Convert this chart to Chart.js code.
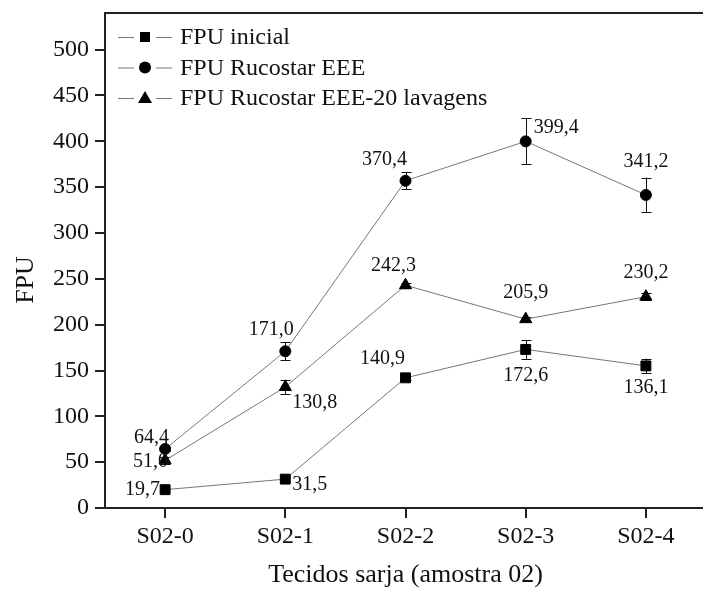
<!DOCTYPE html>
<html lang="pt">
<head>
  <meta charset="UTF-8">
  <title>FPU - Tecidos sarja</title>
  <script src="https://cdn.jsdelivr.net/npm/chart.js"></script>
  <style>
    html, body { margin:0; padding:0; background:#fff; overflow:hidden; }
    #wrap { width:714px; height:591px; }
  </style>
</head>
<body>
  <div id="wrap"><canvas id="fpuChart" width="714" height="591"></canvas></div>
  <script>
    // categories
    const samples = ['S02-0', 'S02-1', 'S02-2', 'S02-3', 'S02-4'];
    const seriesNames = ['FPU inicial', 'FPU Rucostar EEE', 'FPU Rucostar EEE-20 lavagens'];

    // plotted values and their error bars
    const fpuInicial = [20, 31.5, 142, 173, 155];
    const fpuInicialErr = [1.5, 2, 2, 10, 8];
    const fpuRucostar = [64.4, 171, 357, 400, 341.5];
    const fpuRucostarErr = [2, 10, 9, 25, 19];
    const fpuLavagens = [52, 132, 243, 206, 230.5];
    const fpuLavagensErr = [4, 8, 3, 2, 4];

    // value labels printed next to points
    const inicialText = ['19,7', '31,5', '140,9', '172,6', '136,1'];
    const rucostarText = ['64,4', '171,0', '370,4', '399,4', '341,2'];
    const lavagensText = ['51,0', '130,8', '242,3', '205,9', '230,2'];

    const yTicksMax = 540;
    const SERIF = "'Liberation Serif', 'Times New Roman', serif";

    // where each label sits relative to its point [dx, dy, align]
    const labelPlace = [
      [[-5, 0, 'right'], [7, 6, 'left'], [-23, -19, 'center'], [0, 26, 'center'], [0, 22, 'center']],
      [[4, -11, 'right'], [-14, -22, 'center'], [-21, -21, 'center'], [8, -14, 'left'], [0, -33, 'center']],
      [[3, 1, 'right'], [7, 16, 'left'], [-12, -20, 'center'], [0, -26, 'center'], [0, -24, 'center']]
    ];

    function marker(ctx, style, x, y){
      ctx.save();
      ctx.fillStyle = '#000';
      ctx.beginPath();
      if(style === 'rect'){
        ctx.rect(x-5, y-5, 10, 10);
      } else if(style === 'circle'){
        ctx.arc(x, y, 6, 0, Math.PI*2);
      } else {
        ctx.moveTo(x, y-7); ctx.lineTo(x+7, y+5); ctx.lineTo(x-7, y+5); ctx.closePath();
      }
      ctx.fill();
      ctx.restore();
    }

    const extras = {
      id: 'extras',
      beforeDatasetsDraw(chart){
        // error bars
        const ctx = chart.ctx, y = chart.scales.y;
        ctx.save();
        ctx.strokeStyle = '#111'; ctx.lineWidth = 1;
        chart.data.datasets.forEach((ds, i) => {
          const meta = chart.getDatasetMeta(i);
          meta.data.forEach((pt, j) => {
            const e = ds.errors[j];
            const y1 = y.getPixelForValue(ds.data[j] + e), y2 = y.getPixelForValue(ds.data[j] - e);
            const x = Math.round(pt.x) + 0.5;
            ctx.beginPath();
            ctx.moveTo(x, y1); ctx.lineTo(x, y2);
            ctx.moveTo(x-5, Math.round(y1)+0.5); ctx.lineTo(x+5, Math.round(y1)+0.5);
            ctx.moveTo(x-5, Math.round(y2)+0.5); ctx.lineTo(x+5, Math.round(y2)+0.5);
            ctx.stroke();
          });
        });
        ctx.restore();
      },
      afterDraw(chart){
        const ctx = chart.ctx, area = chart.chartArea;
        ctx.save();
        // top frame line
        ctx.strokeStyle = '#222'; ctx.lineWidth = 2;
        ctx.beginPath(); ctx.moveTo(area.left, area.top); ctx.lineTo(chart.width, area.top); ctx.stroke();

        // value labels
        ctx.fillStyle = '#111';
        ctx.font = '20px ' + SERIF;
        ctx.textBaseline = 'middle';
        chart.data.datasets.forEach((ds, i) => {
          chart.getDatasetMeta(i).data.forEach((pt, j) => {
            const p = labelPlace[i][j];
            ctx.textAlign = p[2];
            ctx.fillText(ds.valueText[j], pt.x + p[0], pt.y + p[1]);
          });
        });

        // legend
        ctx.font = '24px ' + SERIF;
        ctx.textAlign = 'left';
        chart.data.datasets.forEach((ds, i) => {
          const ly = 37 + i * 30.5;
          ctx.strokeStyle = '#777'; ctx.lineWidth = 1;
          ctx.beginPath();
          ctx.moveTo(118, ly + 0.5); ctx.lineTo(134, ly + 0.5);
          ctx.moveTo(156, ly + 0.5); ctx.lineTo(172, ly + 0.5);
          ctx.stroke();
          marker(ctx, ds.pointStyle, 145, ly);
          ctx.fillStyle = '#111';
          ctx.fillText(ds.label, 180, ly + 1);
        });

        // y axis title
        ctx.translate(26, 280);
        ctx.rotate(-Math.PI/2);
        ctx.textAlign = 'center';
        ctx.font = '26px ' + SERIF;
        ctx.fillText('FPU', 0, 0);
        ctx.restore();
      }
    };

    function mkSet(name, data, errs, texts, style, radius){
      return {
        label: name, data: data, errors: errs, valueText: texts,
        borderColor: '#777', borderWidth: 1, tension: 0,
        pointStyle: style, pointRadius: radius, pointHoverRadius: radius,
        pointBackgroundColor: '#000', pointBorderColor: '#000', pointBorderWidth: 1
      };
    }

    new Chart(document.getElementById('fpuChart').getContext('2d'), {
      type: 'line',
      data: {
        labels: samples,
        datasets: [
          mkSet(seriesNames[0], fpuInicial, fpuInicialErr, inicialText, 'rect', 7),
          mkSet(seriesNames[1], fpuRucostar, fpuRucostarErr, rucostarText, 'circle', 5.5),
          mkSet(seriesNames[2], fpuLavagens, fpuLavagensErr, lavagensText, 'triangle', 7)
        ]
      },
      options: {
        responsive: false,
        animation: false,
        layout: { padding: { top: 13, left: 0, right: 0, bottom: 0 } },
        plugins: { legend: { display: false }, tooltip: { enabled: false } },
        scales: {
          x: {
            type: 'category',
            offset: true,
            afterFit: s => { s.height = 83; },
            grid: { offset: false, drawOnChartArea: false, drawTicks: true, tickLength: 10, color: '#222', lineWidth: 2 },
            border: { display: true, color: '#222', width: 2 },
            ticks: { color: '#111', font: { family: SERIF, size: 24 }, padding: 4 },
            title: { display: true, text: 'Tecidos sarja (amostra 02)', color: '#111',
                     font: { family: SERIF, size: 26 }, padding: { top: 0, bottom: 0 } }
          },
          y: {
            min: 0, max: yTicksMax,
            afterFit: s => { s.width = 105; s.paddingTop = 0; s.paddingBottom = 0; },
            grid: { drawOnChartArea: false, drawTicks: true, tickLength: 10, color: '#222', lineWidth: 2 },
            border: { display: true, color: '#222', width: 2 },
            ticks: { stepSize: 50, includeBounds: false, color: '#111', font: { family: SERIF, size: 24 }, padding: 6 }
          }
        }
      },
      plugins: [extras]
    });
  </script>
</body>
</html>
